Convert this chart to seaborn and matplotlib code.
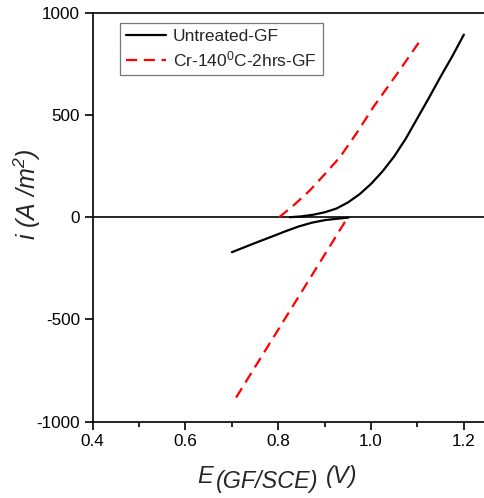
import matplotlib
matplotlib.use("Agg")
import matplotlib.pyplot as plt
import seaborn as sns
import pandas as pd
from matplotlib.ticker import MultipleLocator

# ---- data ----
untreated_low_E = [0.700, 0.728, 0.757, 0.786, 0.814, 0.843, 0.872, 0.901, 0.929, 0.951]
untreated_low_i = [-171, -146, -120, -95, -70, -46, -27, -14, -7, -2]
untreated_up_E = [0.825, 0.850, 0.875, 0.900, 0.925, 0.950, 0.975, 1.000, 1.025,
                  1.050, 1.075, 1.100, 1.125, 1.150, 1.175, 1.200]
untreated_up_i = [0, 4, 12, 24, 42, 72, 112, 163, 225, 298, 385, 485, 585, 688, 787, 893]

cr_low_E = [0.709, 0.811, 0.918, 0.950]
cr_low_i = [-882, -509, -117, 0]
cr_up_E = [0.802, 0.835, 0.868, 0.900, 0.933, 0.970, 1.005, 1.060, 1.109]
cr_up_i = [0, 62, 131, 210, 294, 415, 539, 714, 874]

label_untreated = "Untreated-GF"
label_cr = "Cr-140$\\mathrm{^{0}}$C-2hrs-GF"

x_ticks = [0.4, 0.6, 0.8, 1.0, 1.2]
y_ticks = [-1000, -500, 0, 500, 1000]

sns.set_theme(style="white")
plt.rcParams["font.family"] = ["Liberation Sans", "DejaVu Sans"]
plt.rcParams["mathtext.fontset"] = "custom"
plt.rcParams["mathtext.rm"] = "Liberation Sans"
plt.rcParams["mathtext.it"] = "Liberation Sans:italic"
plt.rcParams["mathtext.sf"] = "Liberation Sans:italic"

W, H = 485, 498
fig = plt.figure(figsize=(W / 100, H / 100), dpi=100)
ax = fig.add_axes([0.1911, 0.1532, 0.8089, 0.8213])

def frame(E, i):
    return pd.DataFrame({"E": E, "i": i})

ax.axhline(0, color="black", lw=1.2, zorder=1)

sns.lineplot(data=frame(untreated_low_E, untreated_low_i), x="E", y="i",
             sort=False, estimator=None, color="black", lw=1.6, ax=ax,
             label=label_untreated, zorder=3)
sns.lineplot(data=frame(untreated_up_E, untreated_up_i), x="E", y="i",
             sort=False, estimator=None, color="black", lw=1.6, ax=ax,
             zorder=3)
sns.lineplot(data=frame(cr_low_E, cr_low_i), x="E", y="i",
             sort=False, estimator=None, color="#ff0000", lw=1.6, ax=ax,
             label=label_cr, zorder=3)
sns.lineplot(data=frame(cr_up_E, cr_up_i), x="E", y="i",
             sort=False, estimator=None, color="#ff0000", lw=1.6, ax=ax,
             zorder=3)
for ln in ax.get_lines()[3:]:
    ln.set_dashes((5, 3))

ax.set_xlim(0.4, 1.2455)
ax.set_ylim(-1000, 1000)
ax.set_xticks(x_ticks)
ax.set_xticklabels([f"{v:.1f}" for v in x_ticks])
ax.set_yticks(y_ticks)
ax.set_yticklabels([str(v) for v in y_ticks])
ax.xaxis.set_minor_locator(MultipleLocator(0.1))

ax.tick_params(axis="both", which="major", direction="out", length=6, width=1.2,
               labelsize=12.3, color="black", labelcolor="black",
               bottom=True, left=True, pad=3)
ax.tick_params(axis="x", which="minor", direction="out", length=3.5, width=1.2,
               bottom=True, color="black")

for side in ["left", "bottom", "top"]:
    ax.spines[side].set_visible(True)
    ax.spines[side].set_color("black")
    ax.spines[side].set_linewidth(1.2)
ax.spines["right"].set_visible(False)

ax.set_xlabel("")
ax.set_ylabel("")

def fx(px):
    return px / W

def fy(py):
    return 1 - py / H

# x axis label: E with a large subscript, then (V)
fig.text(fx(197), fy(483), "E", fontsize=17, fontstyle="italic", va="baseline", ha="left")
fig.text(fx(216), fy(488), "(GF/SCE)", fontsize=16.8, fontstyle="italic", va="baseline", ha="left")
fig.text(fx(326), fy(483), "(V)", fontsize=17, fontstyle="italic", va="baseline", ha="left")

# y axis label
fig.text(fx(36), fy(194), r"$\mathsf{i\ (A\ /m^{2})}$", fontsize=18, rotation=90,
         rotation_mode="anchor", ha="center", va="baseline")

leg = ax.legend(loc="upper left", bbox_to_anchor=(0.07, 0.975), fontsize=12.5,
                frameon=True, fancybox=False, edgecolor="#555555",
                handlelength=2.3, handletextpad=0.4, borderpad=0.35,
                labelspacing=0.3, borderaxespad=0)
leg.get_frame().set_linewidth(0.9)
for h in leg.get_lines():
    h.set_linewidth(1.6)
leg.get_lines()[1].set_dashes((5, 3))

fig.savefig("out.png", dpi=100)
